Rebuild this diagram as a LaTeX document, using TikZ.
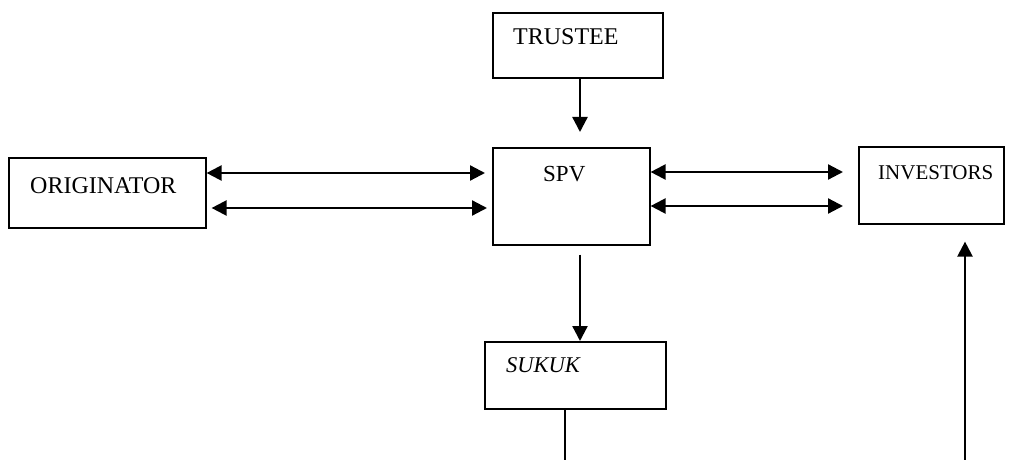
\documentclass[tikz,border=0pt]{standalone}
\usepackage{fontspec}
\setmainfont{Liberation Serif}
\usetikzlibrary{arrows.meta}
\tikzset{
  box/.style={draw, line width=1.6pt, inner sep=0pt, anchor=north west},
  lbl/.style={inner sep=0pt, anchor=base west},
  link/.style={line width=2.3pt, -{Triangle[length=15pt,width=15pt]}},
  both/.style={line width=2.3pt, {Triangle[length=15pt,width=15pt]}-{Triangle[length=15pt,width=15pt]}},
  plain/.style={line width=2pt}
}
\newcommand{\fsz}[1]{\fontsize{#1}{#1}\selectfont}
\begin{document}
\begin{tikzpicture}[x=1pt,y=-1pt]
\useasboundingbox (0,0) rectangle (1013,460);

% boxes
\node[box, minimum width=170pt, minimum height=65pt] (trustee) at (492,12) {};
\node[box, minimum width=197pt, minimum height=70pt] (orig) at (8,157) {};
\node[box, minimum width=157pt, minimum height=97pt] (spv) at (492,147) {};
\node[box, minimum width=145pt, minimum height=77pt] (inv) at (858,146) {};
\node[box, minimum width=181pt, minimum height=67pt] (sukuk) at (484,341) {};

% labels
\node[lbl] (trusteeT) at (513,45) {\fsz{24}TRUSTEE};
\node[lbl] (origT) at (30,193) {\fsz{24}ORIGINATOR};
\node[lbl] (spvT) at (543,181.5) {\fsz{23}SPV};
\node[lbl] (invT) at (878,179) {\fsz{21}INVESTORS};
\node[lbl] (sukukT) at (506,372) {\fsz{22.5}\itshape SUKUK};

% guide coordinates for the connector rows and columns
\coordinate (r1) at (0,173);
\coordinate (r2) at (0,208);
\coordinate (r3) at (0,172);
\coordinate (r4) at (0,206);
\coordinate (c1) at (580,0);
\coordinate (c2) at (565,0);
\coordinate (c3) at (965,0);
\coordinate (sukukEnd) at (565,460);
\coordinate (invStart) at (965,460);

% connectors
\draw[link, shorten >=15pt] (trustee.south -| c1) -- (spv.north -| c1);
\draw[both, shorten >=7pt] (orig.east |- r1) -- (spv.west |- r1);
\draw[both, shorten <=5pt, shorten >=5pt] (orig.east |- r2) -- (spv.west |- r2);
\draw[both, shorten >=15pt] (spv.east |- r3) -- (inv.west |- r3);
\draw[both, shorten >=15pt] (spv.east |- r4) -- (inv.west |- r4);
\draw[link, shorten <=9pt] (spv.south -| c1) -- (sukuk.north -| c1);
\draw[plain] (sukuk.south -| c2) -- (sukukEnd);
\draw[link, shorten >=17pt] (invStart) -- (inv.south -| c3);
\end{tikzpicture}
\end{document}
